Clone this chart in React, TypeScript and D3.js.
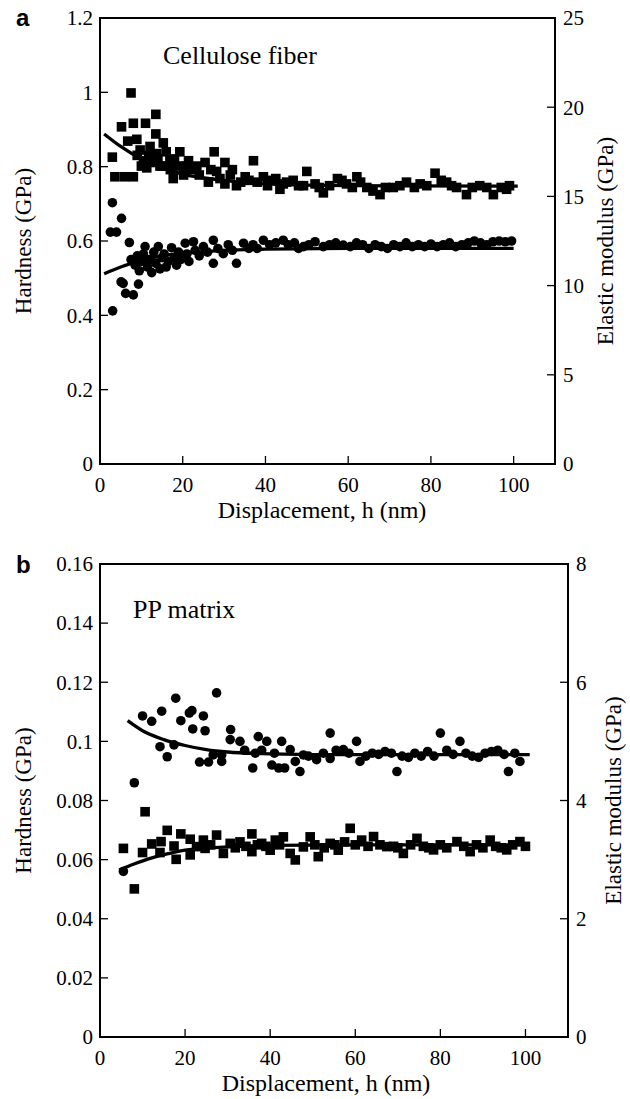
import React from 'react';
import * as d3 from 'd3';

// ---------- shared ----------
const xTicks = [0, 20, 40, 60, 80, 100];
const xDomain = [0, 110];

// ---------- panel a : Cellulose fiber ----------
const aHardTicks = [0, 0.2, 0.4, 0.6, 0.8, 1, 1.2];
const aModTicks = [0, 5, 10, 15, 20, 25];
// squares: elastic modulus (GPa, right axis)
const aModulus: [number, number][] = [
  [2.98, 17.2], [3.6, 16.1], [5.2, 18.9], [5.9, 16.1], [6.7, 18.1], [7.5, 20.8], [8.06, 19.1], [8.06, 16.1],
  [8.9, 18.2], [9, 17.3], [9.7, 17.6], [10, 16.7], [10.5, 17.0], [11.0, 19.1], [11.3, 16.6], [11.8, 17.3],
  [12.1, 17.8], [12.5, 16.9], [13.5, 19.6], [13.5, 18.5], [13.7, 17.4], [14, 17.1], [14.5, 16.7], [15, 16.7],
  [15.3, 18.0], [16, 17.5], [16.9, 17.0], [17, 16.5], [17.7, 16.0], [18, 17.1], [19, 16.7], [19.3, 17.5],
  [20.2, 16.2], [20.8, 16.7], [21.4, 17.0], [22, 16.5], [23.4, 16.7], [24, 16.2], [25.4, 16.9], [26.2, 15.8],
  [26.8, 16.5], [27.6, 17.5], [28.2, 16.4], [29, 16.0], [30.2, 16.9], [30.2, 15.7], [31.5, 16.2], [32, 16.5],
  [33.0, 15.6], [34, 15.8], [35.1, 16.1], [36, 15.9], [37.1, 17.0], [38, 15.8], [39.5, 16.1], [40.5, 15.6],
  [41.5, 15.9], [42.5, 16.0], [43.5, 15.4], [44.3, 15.7], [45.1, 15.8], [46.7, 15.9], [48, 15.6], [49.2, 15.6],
  [50.0, 16.4], [52, 15.7], [53, 15.5], [54.0, 15.2], [55.5, 15.6], [57.4, 16.0], [58.5, 15.9], [59.6, 15.7],
  [61, 15.5], [62.1, 16.1], [63, 15.8], [64.5, 15.5], [66, 15.3], [67.7, 15.1], [69, 15.5], [70.9, 15.5],
  [72.5, 15.6], [74.1, 15.8], [76, 15.5], [77.4, 15.7], [79, 15.6], [81.0, 16.3], [82.5, 15.9], [83.8, 15.8],
  [85, 15.6], [86.2, 15.5], [88.6, 15.1], [90, 15.5], [91.8, 15.6], [93.5, 15.5], [95.1, 15.1], [97, 15.5],
  [98.3, 15.4], [99, 15.6],
];
// circles: hardness (GPa, left axis)
const aHardness: [number, number][] = [
  [2.5, 0.624], [3.06, 0.412], [3.0, 0.703], [3.99, 0.624], [5.1, 0.49], [5.2, 0.661], [5.6, 0.486], [6.2, 0.459],
  [7.1, 0.596], [8.06, 0.455], [9.3, 0.484], [7.5, 0.55], [8.5, 0.535], [9, 0.56], [9.5, 0.52], [10, 0.545],
  [10.5, 0.565], [10.9, 0.585], [11.5, 0.53], [12, 0.55], [12.5, 0.515], [13, 0.57], [13.5, 0.54], [14.1, 0.585],
  [14.5, 0.525], [15, 0.555], [15.5, 0.565], [16, 0.53], [16.5, 0.545], [17.3, 0.582], [18, 0.555], [18.5, 0.535],
  [19, 0.57], [19.5, 0.55], [20.6, 0.594], [21, 0.565], [21.5, 0.545], [22.6, 0.598], [23, 0.575], [24, 0.56],
  [25, 0.585], [26, 0.57], [27.4, 0.602], [27.4, 0.54], [28.5, 0.58], [29.8, 0.566], [31, 0.59], [32, 0.575],
  [33, 0.54], [34.7, 0.594], [36, 0.58], [37, 0.59], [38, 0.58], [39.5, 0.602], [41, 0.59], [42.5, 0.595],
  [44.3, 0.602], [45.5, 0.59], [47, 0.595], [48, 0.58], [49.2, 0.585], [50.5, 0.59], [52, 0.598], [54, 0.585],
  [55.5, 0.59], [57, 0.595], [58.8, 0.589], [60.5, 0.585], [62, 0.595], [63.5, 0.59], [65, 0.58], [66.5, 0.59],
  [68, 0.585], [69.5, 0.58], [71, 0.59], [72.5, 0.585], [74, 0.595], [75.5, 0.585], [77, 0.59], [78.5, 0.585],
  [80, 0.592], [81.5, 0.585], [83, 0.59], [84.5, 0.595], [86, 0.585], [87.5, 0.59], [89, 0.595], [90.5, 0.6],
  [92, 0.595], [93.5, 0.59], [95, 0.598], [96.5, 0.6], [98, 0.598], [99.5, 0.6],
];
const aModFit: [number, number][] = [
  [1, 18.5], [5, 17.8], [10, 17.1], [15, 16.6], [20, 16.25], [30, 15.9], [40, 15.7], [60, 15.6], [101, 15.58],
];
const aHardFit: [number, number][] = [
  [1, 0.512], [5, 0.53], [10, 0.548], [15, 0.56], [20, 0.567], [30, 0.575], [40, 0.578], [60, 0.58], [100, 0.58],
];

// ---------- panel b : PP matrix ----------
const bHardTicks = [0, 0.02, 0.04, 0.06, 0.08, 0.1, 0.12, 0.14, 0.16];
const bModTicks = [0, 2, 4, 6, 8];
// circles: elastic modulus (GPa, right axis)
const bModulus: [number, number][] = [
  [5.5, 2.8], [8.07, 4.3], [10.0, 5.43], [12.15, 5.34], [14.1, 4.91], [14.5, 5.51], [15.8, 4.74], [17.4, 4.94],
  [17.8, 5.73], [19.0, 5.35], [21.0, 5.48], [21.6, 5.52], [21.8, 5.21], [23.4, 4.65], [24.3, 5.43], [24.7, 5.18],
  [25.5, 4.65], [26.6, 4.77], [27.4, 5.82], [28.6, 4.66], [28.6, 4.77], [30.6, 5.03], [30.7, 5.2], [32.9, 5.0],
  [34, 4.85], [35.9, 4.55], [36.5, 4.8], [37.2, 5.08], [38, 4.85], [39.2, 5.0], [40.4, 4.6], [41, 4.8],
  [42.0, 4.55], [42.7, 5.0], [43.4, 4.55], [44.7, 4.86], [45.9, 4.66], [47.0, 4.49], [47.8, 4.77], [49, 4.75],
  [50.9, 4.69], [52.5, 4.8], [54.1, 5.14], [54.1, 4.71], [55.5, 4.85], [57.2, 4.86], [58.5, 4.8], [60.3, 5.0],
  [61.1, 4.66], [62.5, 4.75], [64, 4.8], [65.5, 4.78], [67, 4.83], [68.5, 4.8], [69.8, 4.49], [71, 4.75],
  [72.5, 4.73], [74, 4.8], [75.5, 4.75], [77, 4.83], [78.5, 4.75], [80.0, 5.14], [81.5, 4.85], [83, 4.78],
  [84.6, 5.0], [86, 4.8], [87.5, 4.75], [89, 4.73], [90.5, 4.8], [92, 4.83], [93.5, 4.85], [95, 4.78],
  [96.0, 4.49], [97.5, 4.8], [98.7, 4.66],
];
// squares: hardness (GPa, left axis)
const bHardness: [number, number][] = [
  [5.5, 0.0638], [8.07, 0.0501], [10.0, 0.0624], [10.6, 0.0762], [12.15, 0.0653], [14.1, 0.0624], [14.35, 0.0661],
  [15.8, 0.0699], [17.4, 0.0646], [17.9, 0.0601], [19.0, 0.0687], [21.2, 0.0669], [21.2, 0.0616], [22.7, 0.0644],
  [24.3, 0.0666], [24.7, 0.0638], [26, 0.065], [27.4, 0.0683], [29.0, 0.0621], [30.6, 0.0655], [31.8, 0.064],
  [32.9, 0.066], [34.3, 0.0645], [35.7, 0.0687], [35.7, 0.0627], [37, 0.065], [38.0, 0.0655], [39, 0.0645],
  [40.0, 0.0632], [41.2, 0.0666], [42.2, 0.065], [43.1, 0.0677], [44.7, 0.0621], [45.9, 0.0599], [47.8, 0.0643],
  [49.4, 0.0677], [50.5, 0.065], [51.3, 0.061], [52.7, 0.064], [54.1, 0.0655], [55.2, 0.065], [56.0, 0.0632],
  [57.5, 0.066], [58.8, 0.0706], [60, 0.065], [61.5, 0.0666], [63, 0.0645], [64.3, 0.0678], [65.8, 0.065],
  [67.4, 0.0644], [69, 0.0645], [70, 0.064], [71.3, 0.0621], [73, 0.065], [74.5, 0.0672], [76, 0.0645],
  [77.3, 0.064], [78.4, 0.0633], [80, 0.065], [81.5, 0.064], [83.9, 0.0661], [85.5, 0.0645], [87.0, 0.0627],
  [88.5, 0.065], [90, 0.064], [91.7, 0.0666], [93, 0.0645], [94.3, 0.064], [95.6, 0.0633], [97, 0.065],
  [98.7, 0.0661], [100, 0.0645],
];
const bModFit: [number, number][] = [
  [6.5, 5.35], [10, 5.18], [15, 5.03], [20, 4.93], [25, 4.86], [30, 4.82], [40, 4.79], [60, 4.775], [101, 4.775],
];
const bHardFit: [number, number][] = [
  [4.5, 0.0565], [8, 0.0585], [12, 0.0605], [16, 0.062], [20, 0.0632], [30, 0.0643], [40, 0.0648], [60, 0.065], [101, 0.065],
];

const SERIF = '"Liberation Serif", "Times New Roman", serif';
const SANS = '"Liberation Sans", Arial, sans-serif';

type PanelProps = {
  letter: string;
  name: string;
  box: { left: number; right: number; top: number; bottom: number };
  hardMax: number;
  modMax: number;
  hardTicks: number[];
  modTicks: number[];
  squares: [number, number][];
  squaresAxis: 'hard' | 'mod';
  circles: [number, number][];
  circlesAxis: 'hard' | 'mod';
  fitHard: [number, number][];
  fitMod: [number, number][];
  xTitleX: number;
  letterY: number;
  nameX: number;
  nameY: number;
  rightTitleX: number;
};

const fmt = d3.format('~g');

function Panel(p: PanelProps) {
  const { left, right, top, bottom } = p.box;
  const x = d3.scaleLinear().domain(xDomain).range([left, right]);
  const yH = d3.scaleLinear().domain([0, p.hardMax]).range([bottom, top]);
  const yM = d3.scaleLinear().domain([0, p.modMax]).range([bottom, top]);
  const sq = 9.6;
  const r = 4.8;
  const ys = (a: 'hard' | 'mod') => (a === 'hard' ? yH : yM);
  const lineH = d3.line<[number, number]>().x((d) => x(d[0])).y((d) => yH(d[1])).curve(d3.curveMonotoneX);
  const lineM = d3.line<[number, number]>().x((d) => x(d[0])).y((d) => yM(d[1])).curve(d3.curveMonotoneX);
  const tickLen = 8;
  const cy = (top + bottom) / 2;
  return (
    <g>
      <text x={16} y={p.letterY} fontFamily={SANS} fontWeight="bold" fontSize={24}>{p.letter}</text>
      <text x={p.nameX} y={p.nameY} fontFamily={SERIF} fontSize={26}>{p.name}</text>
      {p.squares.map((d, i) => (
        <rect key={'s' + i} x={x(d[0]) - sq / 2} y={ys(p.squaresAxis)(d[1]) - sq / 2} width={sq} height={sq} fill="#000" />
      ))}
      {p.circles.map((d, i) => (
        <circle key={'c' + i} cx={x(d[0])} cy={ys(p.circlesAxis)(d[1])} r={r} fill="#000" />
      ))}
      <path d={lineM(p.fitMod) || ''} fill="none" stroke="#000" strokeWidth={3.3} />
      <path d={lineH(p.fitHard) || ''} fill="none" stroke="#000" strokeWidth={3.3} />
      <rect x={left} y={top} width={right - left} height={bottom - top} fill="none" stroke="#000" strokeWidth={2} />
      {xTicks.map((t) => (
        <g key={'x' + t}>
          <line x1={x(t)} x2={x(t)} y1={bottom} y2={bottom - tickLen} stroke="#000" strokeWidth={1.3} />
          <text x={x(t)} y={bottom + 28} textAnchor="middle" fontFamily={SERIF} fontSize={21}>{t}</text>
        </g>
      ))}
      {p.hardTicks.map((t) => (
        <g key={'h' + t}>
          <line x1={left} x2={left + tickLen} y1={yH(t)} y2={yH(t)} stroke="#000" strokeWidth={1.3} />
          <text x={left - 7} y={yH(t)} dy="0.35em" textAnchor="end" fontFamily={SERIF} fontSize={21}>{fmt(t)}</text>
        </g>
      ))}
      {p.modTicks.map((t) => (
        <g key={'m' + t}>
          <line x1={right} x2={right - tickLen} y1={yM(t)} y2={yM(t)} stroke="#000" strokeWidth={1.3} />
          <text x={right + 8} y={yM(t)} dy="0.35em" textAnchor="start" fontFamily={SERIF} fontSize={21}>{t}</text>
        </g>
      ))}
      <text x={p.xTitleX} y={bottom + 54} textAnchor="middle" fontFamily={SERIF} fontSize={24}>Displacement, h (nm)</text>
      <text transform={`translate(31,${cy}) rotate(-90)`} textAnchor="middle" fontFamily={SERIF} fontSize={23}>Hardness (GPa)</text>
      <text transform={`translate(${p.rightTitleX},${cy}) rotate(-90)`} textAnchor="middle" fontFamily={SERIF} fontSize={23}>Elastic modulus (GPa)</text>
    </g>
  );
}

export default function App() {
  return (
    <svg width={630} height={1099} style={{ position: 'absolute', left: 0, top: 0, background: '#fff' }}>
      <rect width={630} height={1099} fill="#fff" />
      <Panel
        letter="a"
        name="Cellulose fiber"
        box={{ left: 100, right: 555, top: 18, bottom: 464 }}
        hardMax={1.2}
        modMax={25}
        hardTicks={aHardTicks}
        modTicks={aModTicks}
        squares={aModulus}
        squaresAxis="mod"
        circles={aHardness}
        circlesAxis="hard"
        fitHard={aHardFit}
        fitMod={aModFit}
        xTitleX={322}
        letterY={26}
        nameX={163}
        nameY={64}
        rightTitleX={613}
      />
      <Panel
        letter="b"
        name="PP matrix"
        box={{ left: 100, right: 568, top: 564, bottom: 1037 }}
        hardMax={0.16}
        modMax={8}
        hardTicks={bHardTicks}
        modTicks={bModTicks}
        squares={bHardness}
        squaresAxis="hard"
        circles={bModulus}
        circlesAxis="mod"
        fitHard={bHardFit}
        fitMod={bModFit}
        xTitleX={326}
        letterY={573}
        nameX={133}
        nameY={618}
        rightTitleX={621}
      />
    </svg>
  );
}
